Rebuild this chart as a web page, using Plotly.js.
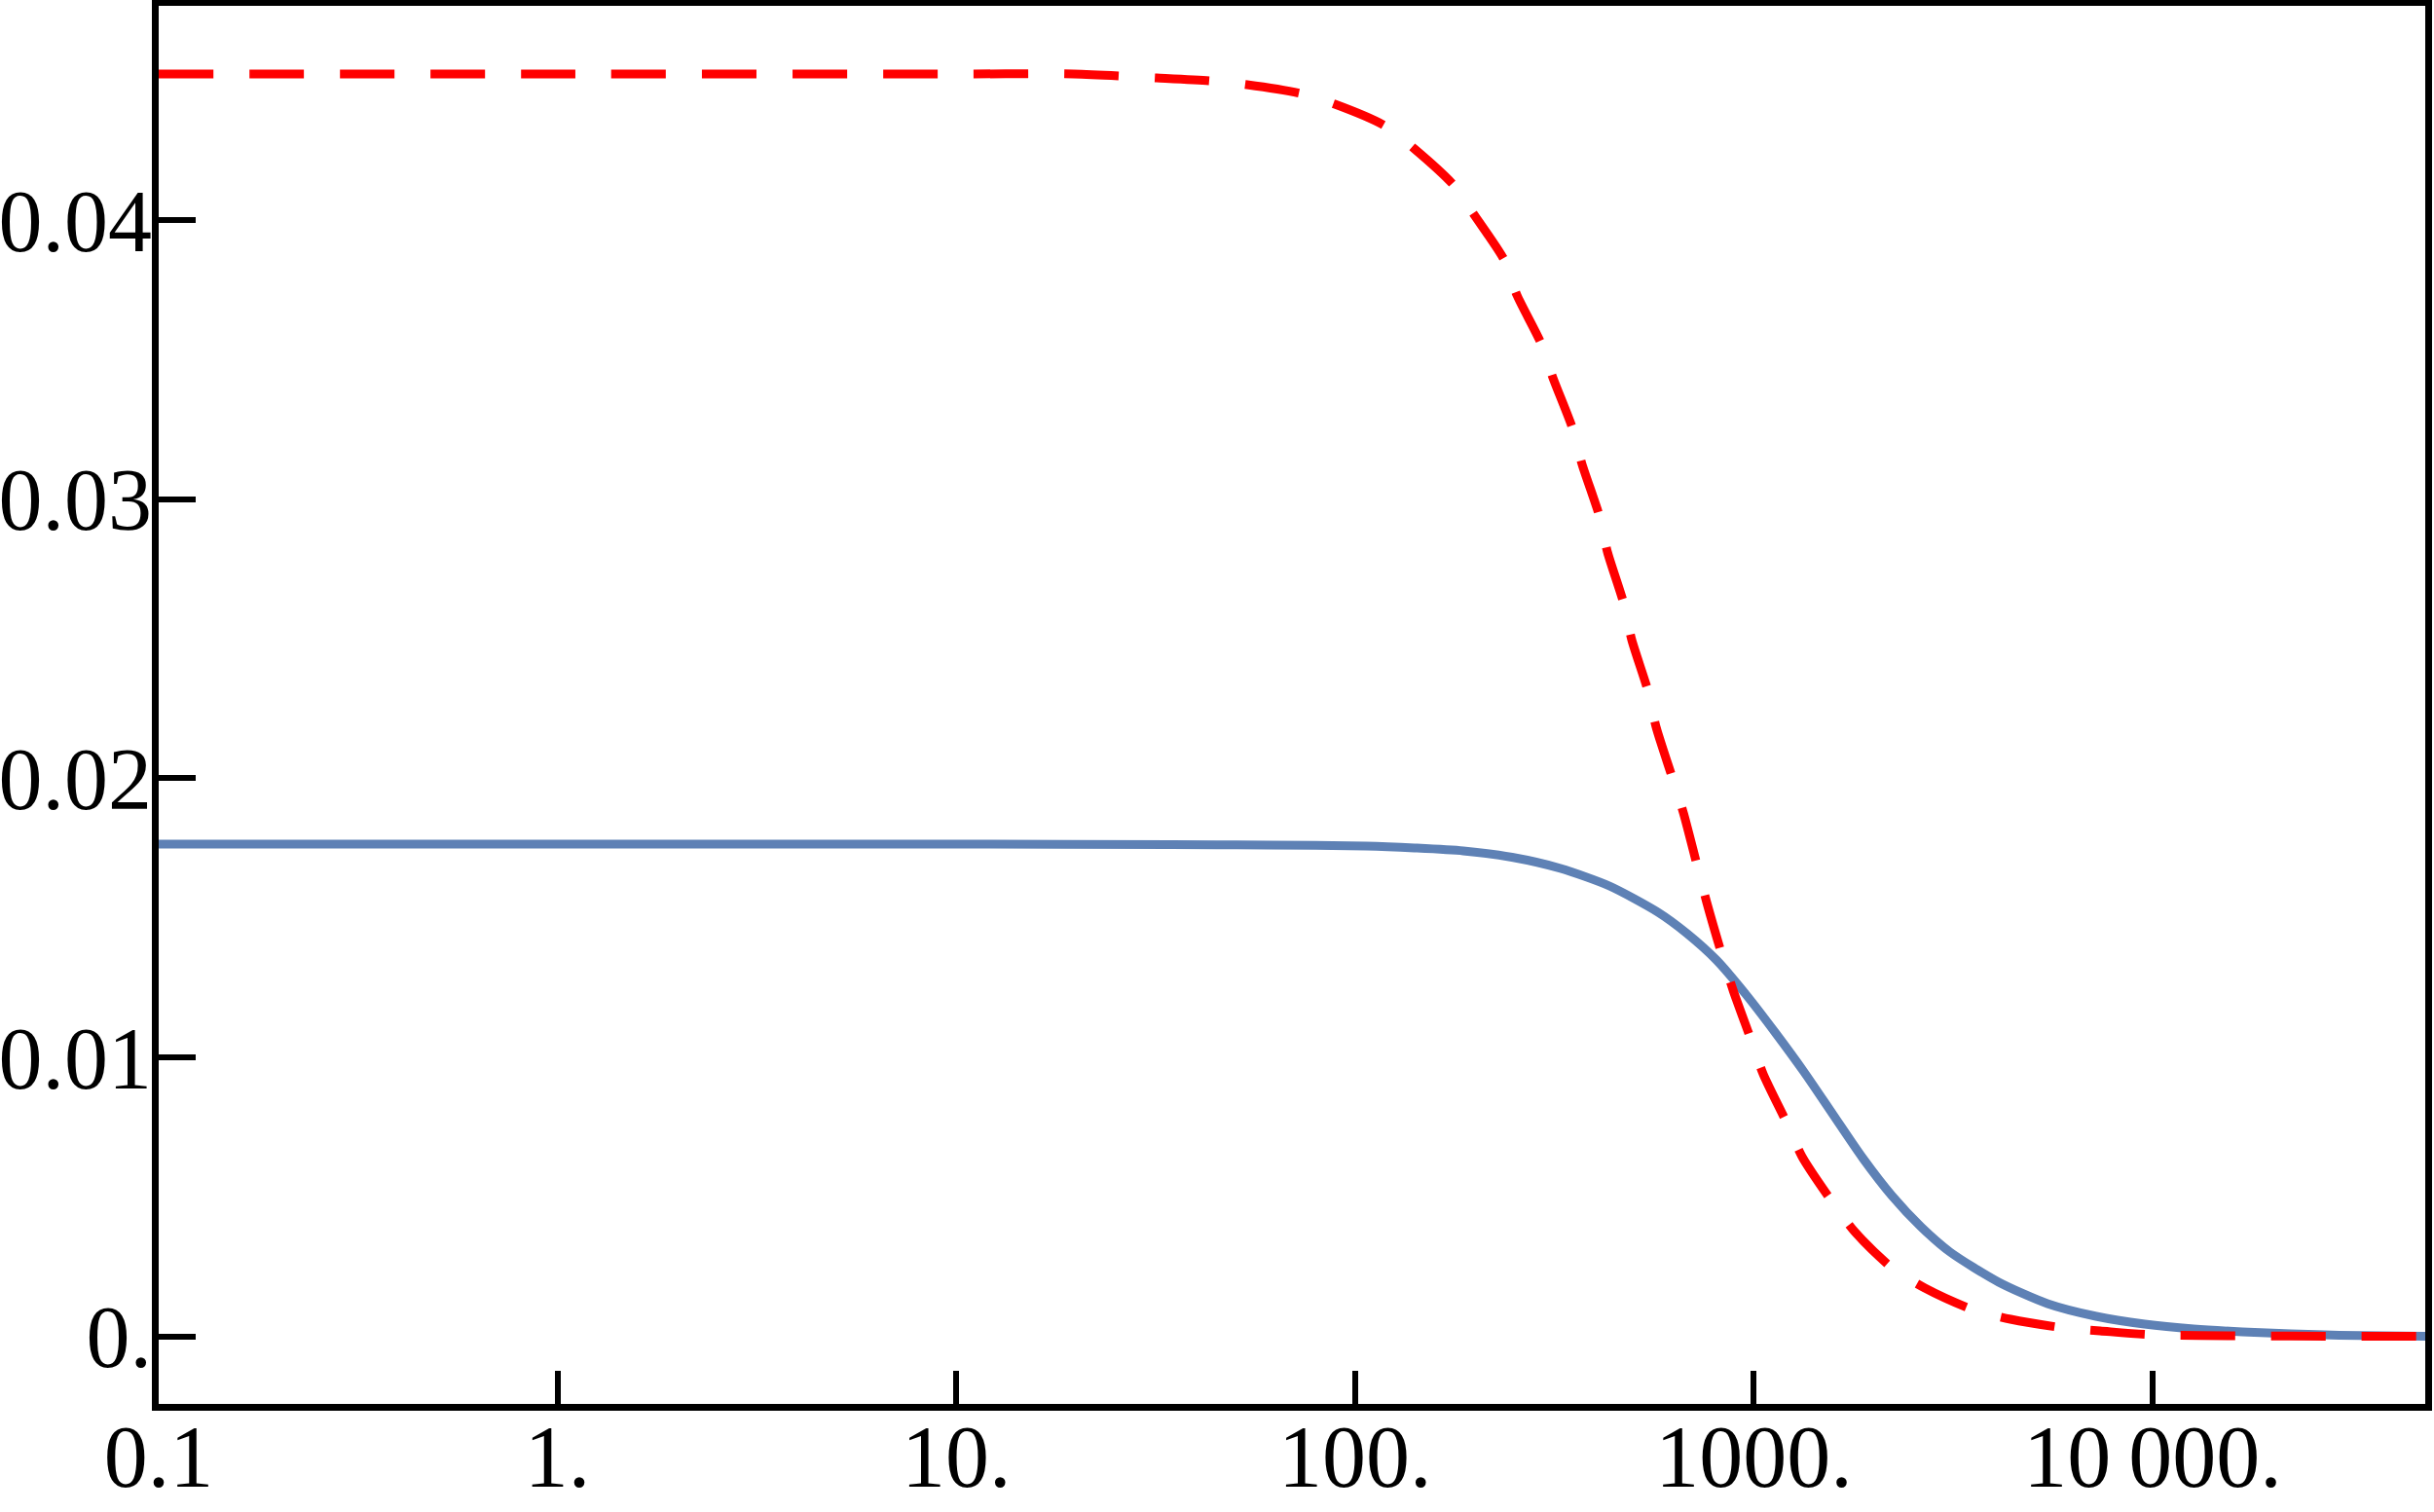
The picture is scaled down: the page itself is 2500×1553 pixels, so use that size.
<!DOCTYPE html>
<html>
<head>
<meta charset="utf-8">
<script src="https://cdn.plot.ly/plotly-3.0.1.min.js"></script>
<style>html,body{margin:0;padding:0;background:#fff;}#chart{width:2500px;height:1553px;}</style>
</head>
<body>
<div id="chart"></div>
<script>
// Solid blue curve
const blueX = [0.1, 1, 11.24, 34.6, 60.7, 106.5, 141.0, 186.8, 247.6, 327.8, 434.3, 575, 680.7, 805.6, 953.5, 1129, 1336, 1581, 1872, 2218, 2624, 3105, 4113, 5448, 7216, 9550, 12670, 16780, 22220, 29420, 50200];
const blueY = [0.017644, 0.017644, 0.017644, 0.017627, 0.017609, 0.017575, 0.017505, 0.017400, 0.017173, 0.016772, 0.016144, 0.015202, 0.014434, 0.013491, 0.012270, 0.010909, 0.009478, 0.007943, 0.006407, 0.005046, 0.003930, 0.003022, 0.001940, 0.001173, 0.000719, 0.000440, 0.000265, 0.000161, 0.0000907, 0.0000384, 0.0000035];

// Dashed red curve
const redX = [0.1, 1, 10, 19.7, 31.8, 43.3, 53.6, 73.1, 89.0, 118.6, 141.0, 176.6, 200.0, 236.6, 254.6, 293.0, 313.4, 351, 371, 410, 429.5, 472, 494, 543, 569, 626, 666, 762, 828, 887, 982, 1055, 1208, 1321, 1563, 1790, 2218, 2685, 3533, 4403, 5996, 7387, 10000, 16960, 28630, 50200];
const redY = [0.045249, 0.045249, 0.045249, 0.045249, 0.045109, 0.045004, 0.044865, 0.044550, 0.044166, 0.043399, 0.042561, 0.041270, 0.040153, 0.038583, 0.037326, 0.035581, 0.034360, 0.032545, 0.031254, 0.029404, 0.028113, 0.026264, 0.024972, 0.023123, 0.021832, 0.019982, 0.018761, 0.015550, 0.013771, 0.012410, 0.010665, 0.009409, 0.007664, 0.006442, 0.004872, 0.003755, 0.002464, 0.001731, 0.000963, 0.000614, 0.000300, 0.000195, 0.000056, 0.000021, 0.000003, 0.0];

// Tick labels
const xTickVals = [0.1, 1, 10, 100, 1000, 10000];
const xTickText = ["0.1", "1.", "10.", "100.", "1000.", "10\u2009000."];
const yTickVals = [0, 0.01, 0.02, 0.03, 0.04];
const yTickText = ["0.", "0.01", "0.02", "0.03", "0.04"];

const traces = [
  {
    x: blueX, y: blueY, type: 'scatter', mode: 'lines',
    line: {color: '#5E81B5', width: 9, shape: 'spline', smoothing: 0.7},
    hoverinfo: 'skip', showlegend: false
  },
  {
    x: redX, y: redY, type: 'scatter', mode: 'lines',
    line: {color: '#FF0000', width: 9, dash: '56px,37px', shape: 'spline', smoothing: 0.7},
    hoverinfo: 'skip', showlegend: false
  }
];

const tickFont = {family: '"Liberation Serif", "DejaVu Serif", serif', size: 90, color: '#000'};

const layout = {
  width: 2500, height: 1553,
  margin: {l: 163, r: 9, t: 6, b: 111, pad: 0},
  paper_bgcolor: '#fff', plot_bgcolor: '#fff',
  showlegend: false,
  xaxis: {
    type: 'log', range: [-1, 4.6836],
    tickmode: 'array', tickvals: xTickVals, ticktext: xTickText,
    ticks: 'inside', ticklen: 34, tickwidth: 6, tickcolor: '#000',
    showline: true, linecolor: '#000', linewidth: 7, mirror: true,
    showgrid: false, zeroline: false,
    ticklabelstandoff: -30,
    tickfont: tickFont
  },
  yaxis: {
    range: [-0.002422, 0.047691],
    tickmode: 'array', tickvals: yTickVals, ticktext: yTickText,
    ticks: 'inside', ticklen: 38, tickwidth: 6, tickcolor: '#000',
    showline: true, linecolor: '#000', linewidth: 7, mirror: true,
    showgrid: false, zeroline: false,
    ticklabelstandoff: -18,
    tickfont: tickFont
  }
};

Plotly.newPlot('chart', traces, layout, {staticPlot: true, displayModeBar: false});
</script>
</body>
</html>
